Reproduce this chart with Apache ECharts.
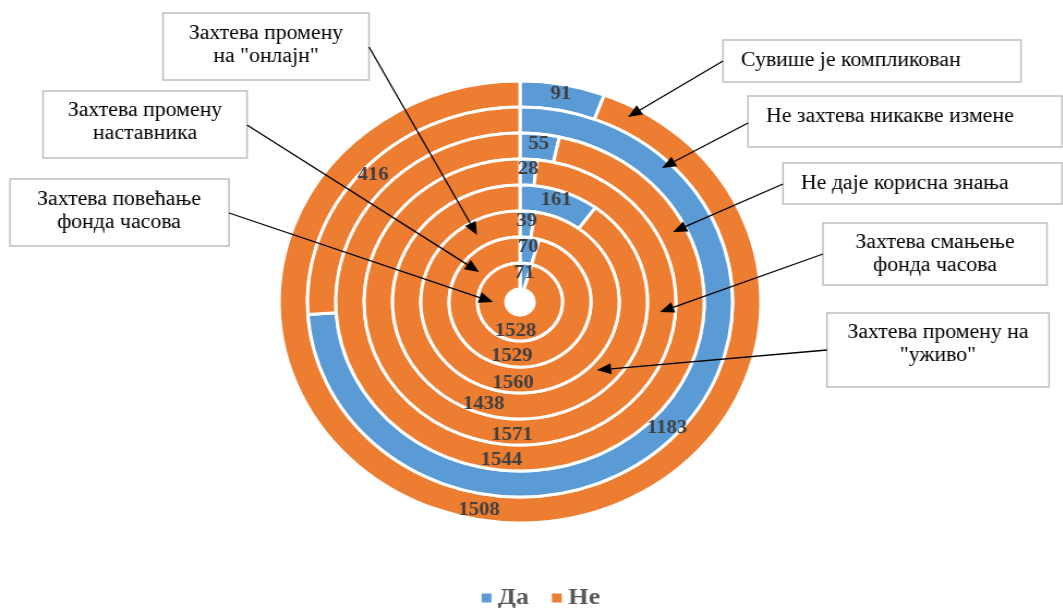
<!DOCTYPE html>
<html>
<head>
<meta charset="utf-8">
<script src="https://cdn.jsdelivr.net/npm/echarts@6/dist/echarts.min.js"></script>
<style>
  html, body { margin: 0; padding: 0; background: #fff; overflow: hidden; }
  /* the original picture is a bit wider than tall, so the circle is stretched */
  #main { width: 976px; height: 608px; transform: scaleX(1.09); transform-origin: 0 0; }
</style>
</head>
<body>
<div id="main"></div>
<script>
// rings, outer to inner
const categories = ['Сувише је компликован', 'Не захтева никакве измене', 'Не даје корисна знања',
  'Захтева смањење фонда часова', 'Захтева промену на "уживо"', 'Захтева промену на "онлајн"',
  'Захтева промену наставника', 'Захтева повећање фонда часова'];
const answers = ['Да', 'Не'];
const yesValues = [91, 1183, 55, 28, 161, 39, 70, 71];
const noValues = [1508, 416, 1544, 1571, 1438, 1560, 1529, 1528];

const S = 1.09;
const sx = x => x / S;
const colors = ['#5B9BD5', '#ED7D31'];
const serif = '"Liberation Serif", "Times New Roman", serif';

// ring radii
const outerR = 221, ringW = 26;

let series = categories.map((cat, i) => {
  return {
    name: cat,
    type: 'pie',
    center: [sx(520), 302],
    radius: [outerR - ringW * (i + 1), outerR - ringW * i],
    startAngle: 90,
    clockwise: true,
    silent: true,
    itemStyle: { borderColor: '#fff', borderWidth: 3 },
    label: {
      show: true,
      position: 'inside',
      formatter: '{c}',
      fontFamily: serif,
      fontWeight: 'bold',
      fontSize: 19,
      color: '#404040'
    },
    labelLine: { show: false },
    data: [
      { name: answers[0], value: yesValues[i] },
      { name: answers[1], value: noValues[i] }
    ]
  }
})

// text boxes with arrows (coords)
const notes = [
  { text: 'Захтева промену\nна "онлајн"', box: [163, 13, 369, 80], tx: 266, ty: 45, align: 'center', from: [369, 47], to: [477, 235] },
  { text: 'Захтева промену\nнаставника', box: [43, 91, 247, 158], tx: 145, ty: 122, align: 'center', from: [247, 125], to: [479, 272] },
  { text: 'Захтева повећање\nфонда часова', box: [10, 179, 229, 246], tx: 119, ty: 211, align: 'center', from: [229, 213], to: [493, 302] },
  { text: 'Сувише је компликован', box: [723, 40, 1021, 82], tx: 741, ty: 61, align: 'left', from: [723, 61], to: [628, 117] },
  { text: 'Не захтева никакве измене', box: [748, 96, 1062, 147], tx: 766, ty: 117, align: 'left', from: [748, 123], to: [662, 168] },
  { text: 'Не даје корисна знања', box: [783, 163, 1062, 204], tx: 801, ty: 184, align: 'left', from: [783, 184], to: [673, 232] },
  { text: 'Захтева смањење\nфонда часова', box: [823, 223, 1047, 285], tx: 935, ty: 254, align: 'center', from: [823, 254], to: [660, 312] },
  { text: 'Захтева промену на\n"уживо"', box: [827, 313, 1049, 387], tx: 938, ty: 344, align: 'center', from: [827, 350], to: [597, 370] }
];

function arrow(p1, p2) {
  let x1 = sx(p1[0]), y1 = p1[1], x2 = sx(p2[0]), y2 = p2[1];
  let dx = x2 - x1, dy = y2 - y1, len = Math.hypot(dx, dy);
  let ux = dx / len, uy = dy / len;
  let hl = 13, hw = 5.5;
  let bx = x2 - ux * hl, by = y2 - uy * hl;
  return [
    { type: 'line', z: 20, shape: { x1: x1, y1: y1, x2: bx, y2: by }, style: { stroke: '#000', lineWidth: 1.3 } },
    { type: 'polygon', z: 20, shape: { points: [[x2, y2], [bx - uy * hw, by + ux * hw], [bx + uy * hw, by - ux * hw]] }, style: { fill: '#000' } }
  ];
}

let graphics = [];
notes.forEach(n => {
  graphics.push({
    type: 'rect', z: 20,
    shape: { x: sx(n.box[0]), y: n.box[1], width: sx(n.box[2]) - sx(n.box[0]), height: n.box[3] - n.box[1] },
    style: { fill: '#fff', stroke: '#BFBFBF', lineWidth: 1.5 }
  });
  graphics.push({
    type: 'text', z: 21, x: sx(n.tx), y: n.ty,
    style: { text: n.text, font: '20px ' + serif, fill: '#000', align: n.align, verticalAlign: 'middle', lineHeight: 23 }
  });
  graphics = graphics.concat(arrow(n.from, n.to));
})

let option = {
  animation: false,
  color: colors,
  legend: {
    data: answers,
    left: sx(474),
    top: 581,
    icon: 'rect',
    itemWidth: 11,
    itemHeight: 11,
    itemGap: 19,
    textStyle: { fontFamily: serif, fontWeight: 'bold', fontSize: 24, color: '#595959' }
  },
  series: series,
  graphic: graphics
};

let myChart = echarts.init(document.getElementById('main'));
myChart.setOption(option);
</script>
</body>
</html>
